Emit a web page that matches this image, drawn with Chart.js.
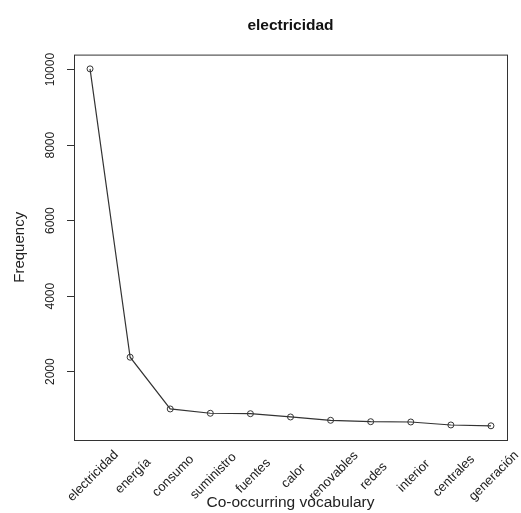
<!DOCTYPE html>
<html lang="es">
<head>
    <meta charset="UTF-8">
    <title>electricidad</title>
    <script src="https://cdn.jsdelivr.net/npm/chart.js"></script>
    <style>
        body {
            margin: 0;
            background: #fff;
        }
        canvas {
            display: block;
        }
    </style>
</head>
<body>
    <canvas id="freqChart" width="521" height="513"></canvas>

    <script>
        // Co-occurring words and their frequencies
        const words = ['electricidad', 'energía', 'consumo', 'suministro', 'fuentes', 'calor',
                       'renovables', 'redes', 'interior', 'centrales', 'generación'];
        const freq = [10020, 2382, 1011, 897, 886, 799, 711, 674, 666, 587, 565];
        const yTicks = [2000, 4000, 6000, 8000, 10000];

        const FONT = 'Liberation Sans, Arial, sans-serif';
        const INK = '#222';

        // box around the plot + rotated, centred word labels (R style)
        const rPlotStyle = {
            id: 'rPlotStyle',
            afterDraw(chart) {
                const { ctx, chartArea } = chart;
                const xs = chart.scales.x;
                ctx.save();
                ctx.strokeStyle = '#333';
                ctx.lineWidth = 1;
                ctx.strokeRect(chartArea.left + 0.5, chartArea.top + 0.5,
                               chartArea.right - chartArea.left, chartArea.bottom - chartArea.top);

                ctx.fillStyle = INK;
                ctx.font = '13px ' + FONT;
                ctx.textAlign = 'center';
                ctx.textBaseline = 'middle';
                words.forEach((w, i) => {
                    const px = xs.getPixelForValue(i) + 3;
                    ctx.save();
                    ctx.translate(px, chartArea.bottom + 36);
                    ctx.rotate(-Math.PI / 4);
                    ctx.fillText(w, 0, 0);
                    ctx.restore();
                });
                ctx.restore();
            }
        };

        const ctx = document.getElementById('freqChart').getContext('2d');
        new Chart(ctx, {
            type: 'line',
            data: {
                datasets: [{
                    data: freq.map((v, i) => ({ x: i, y: v })),
                    borderColor: '#333',
                    borderWidth: 1.2,
                    tension: 0,
                    fill: false,
                    pointRadius: 3,
                    pointBorderWidth: 1,
                    pointBorderColor: '#333',
                    pointBackgroundColor: 'rgba(0,0,0,0)'
                }]
            },
            plugins: [rPlotStyle],
            options: {
                responsive: false,
                animation: false,
                devicePixelRatio: 1,
                layout: {
                    padding: { left: 0, right: 14, top: 0, bottom: 0 }
                },
                plugins: {
                    legend: { display: false },
                    tooltip: { enabled: false },
                    title: {
                        display: true,
                        text: 'electricidad',
                        fullSize: false,
                        color: '#111',
                        font: { family: FONT, size: 15.5, weight: 'bold' },
                        padding: { top: 16, bottom: 20 }
                    }
                },
                scales: {
                    x: {
                        type: 'linear',
                        min: -0.4,
                        max: 10.4,
                        grid: { display: false },
                        border: { display: false },
                        ticks: { display: false },
                        afterFit(scale) { scale.height = 73; },
                        title: {
                            display: true,
                            text: 'Co-occurring vocabulary',
                            color: INK,
                            font: { family: FONT, size: 15.5 },
                            padding: { top: 0, bottom: 1 }
                        }
                    },
                    y: {
                        min: 189,
                        max: 10398,
                        afterBuildTicks(scale) {
                            scale.ticks = yTicks.map(v => ({ value: v }));
                        },
                        grid: {
                            drawOnChartArea: false,
                            drawTicks: true,
                            tickLength: 7,
                            color: '#333'
                        },
                        border: { display: false },
                        ticks: {
                            minRotation: 90,
                            maxRotation: 90,
                            crossAlign: 'center',
                            padding: 0,
                            color: INK,
                            font: { family: FONT, size: 12 },
                            callback: v => String(v)
                        },
                        afterFit(scale) { scale.width = 74; },
                        title: {
                            display: true,
                            text: 'Frequency',
                            color: INK,
                            font: { family: FONT, size: 15 },
                            padding: { top: 11, bottom: 0 }
                        }
                    }
                }
            }
        });
    </script>
</body>
</html>
